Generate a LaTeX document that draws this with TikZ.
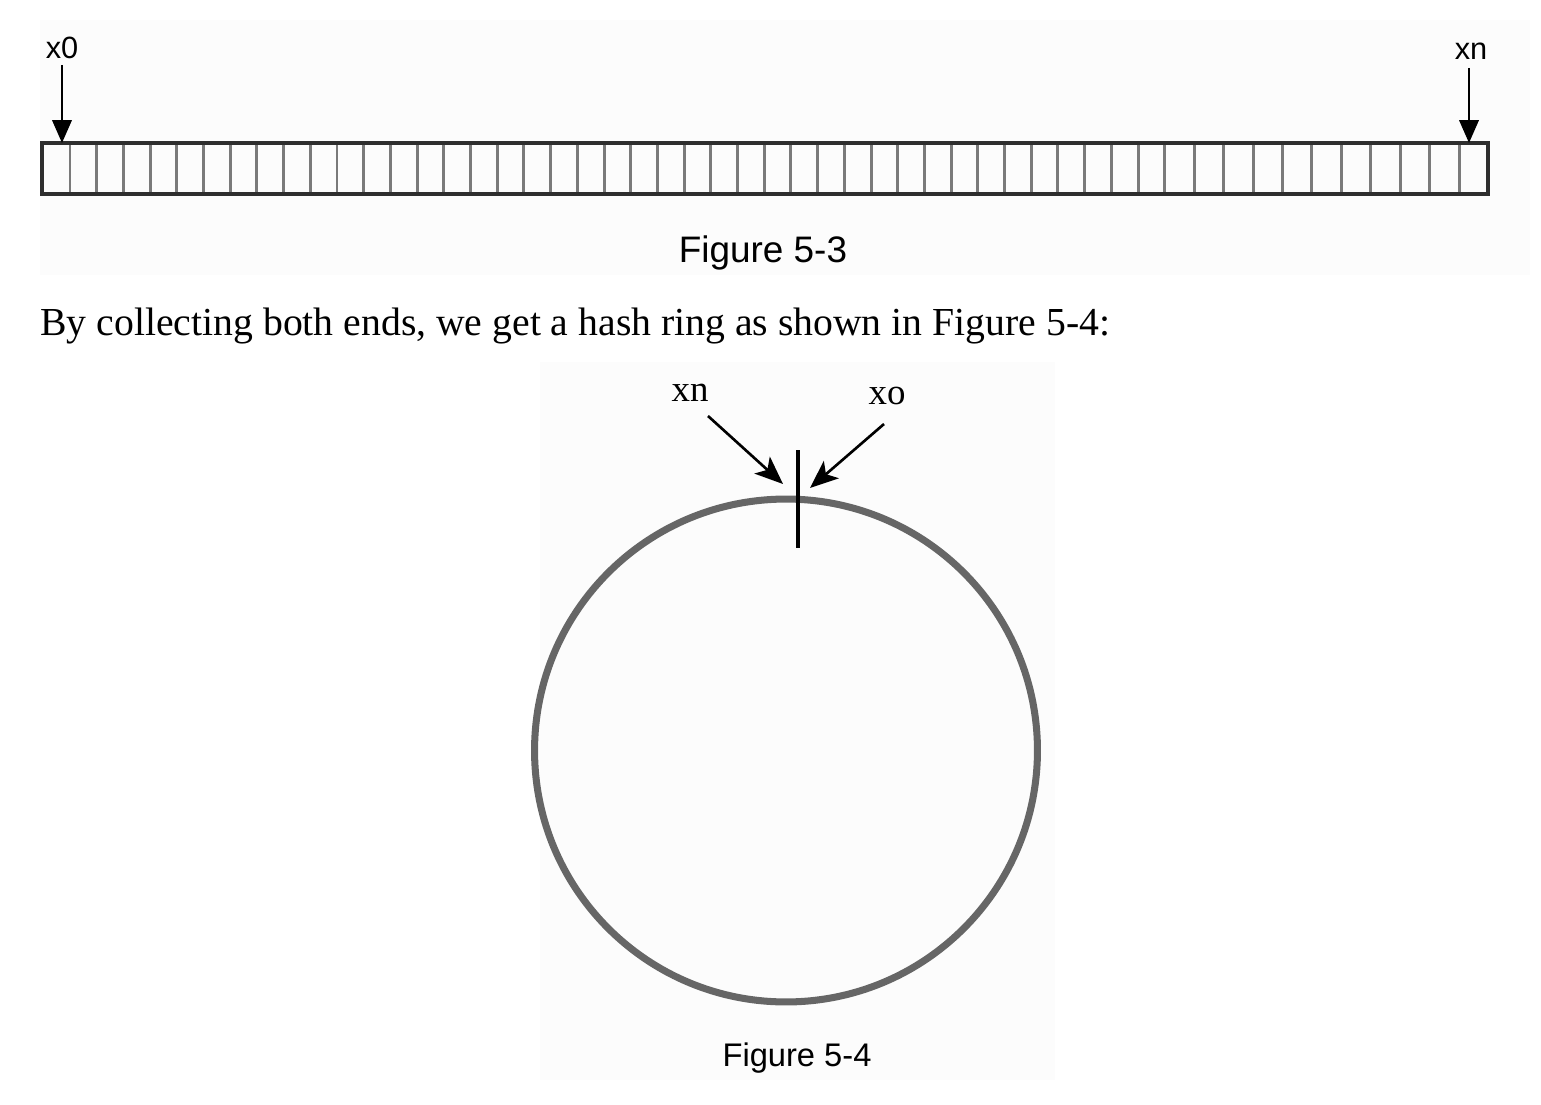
\documentclass[tikz,border=0pt]{standalone}
\usepackage{fontspec}
\setmainfont{Liberation Serif}
\setsansfont{Liberation Sans}
\usetikzlibrary{arrows.meta}
\definecolor{ringgray}{HTML}{666666}
\definecolor{framegray}{HTML}{2E2E2E}
\definecolor{cellgray}{HTML}{7A7A7A}
\definecolor{panelgray}{HTML}{FCFCFC}
\begin{document}
\begin{tikzpicture}[x=0.02cm,y=-0.02cm,
  sanslabel/.style={font=\sffamily\fontsize{17.5}{20}\selectfont, inner sep=0pt},
  seriflabel/.style={font=\rmfamily\fontsize{21}{24}\selectfont, inner sep=0pt},
  caption/.style={font=\sffamily\fontsize{20}{24}\selectfont, inner sep=0pt, anchor=base},
  bodytext/.style={font=\rmfamily\fontsize{22.6}{26}\selectfont, inner sep=0pt, anchor=base west},
  toparrow/.style={line width=1.4pt, -{Triangle[length=13pt,width=11pt]}},
  ringarrow/.style={line width=1.5pt, -{Stealth[length=16pt,width=13pt,inset=4pt]}},
  cellline/.style={draw=cellgray, line width=1.7pt},
  barframe/.style={draw=framegray, line width=2pt},
  ringline/.style={draw=ringgray, line width=4pt, circle, inner sep=0pt, minimum size=10.06cm},
  tickline/.style={line width=2.4pt, black}
]
\useasboundingbox (0,0) rectangle (1541,1105);
% faint panels
\fill[panelgray] (40,20) rectangle (1530,275);
\fill[panelgray] (540,362) rectangle (1055,1080);

% Figure 5-3: the bar of cells
\foreach \k in {0,...,41} \draw[cellline] ({70+26.7*\k},143) -- ({70+26.7*\k},194);
\foreach \k in {1,...,10} \draw[cellline] ({1164.7+29.43*\k},143) -- ({1164.7+29.43*\k},194);
\draw[barframe] (42,143) rectangle (1488,194);

\node[sanslabel, anchor=base] (x0) at (62,59) {x0};
\coordinate (x0tail) at (62,65);
\coordinate (x0tip) at (62,143);
\draw[toparrow] (x0tail) -- (x0tip);

\node[sanslabel, anchor=base] (xnTop) at (1471,60) {xn};
\coordinate (xntail) at (1469,68);
\coordinate (xntip) at (1469,143);
\draw[toparrow] (xntail) -- (xntip);

\node[caption, font=\sffamily\fontsize{21}{24}\selectfont] (cap3) at (763,262) {Figure 5-3};

\node[bodytext] (body) at (40,335) {By collecting both ends, we get a hash ring as shown in Figure 5-4:};

% Figure 5-4: hash ring
\node[ringline] (ring) at (786,750.5) {};
\coordinate (tickTop) at (798,450);
\coordinate (tickBot) at (798,548);
\draw[tickline] (tickTop) -- (tickBot);

\node[seriflabel, anchor=base] (xnRing) at (690,401) {xn};
\node[seriflabel, anchor=base] (xoRing) at (887,404) {xo};
\coordinate (xnAtail) at (708,416);
\coordinate (xnAtip) at (783,484);
\coordinate (xoAtail) at (884,424);
\coordinate (xoAtip) at (810,488);
\draw[ringarrow] (xnAtail) -- (xnAtip);
\draw[ringarrow] (xoAtail) -- (xoAtip);

\node[caption, font=\sffamily\fontsize{18.6}{22}\selectfont] (cap4) at (797,1066) {Figure 5-4};
\end{tikzpicture}
\end{document}
